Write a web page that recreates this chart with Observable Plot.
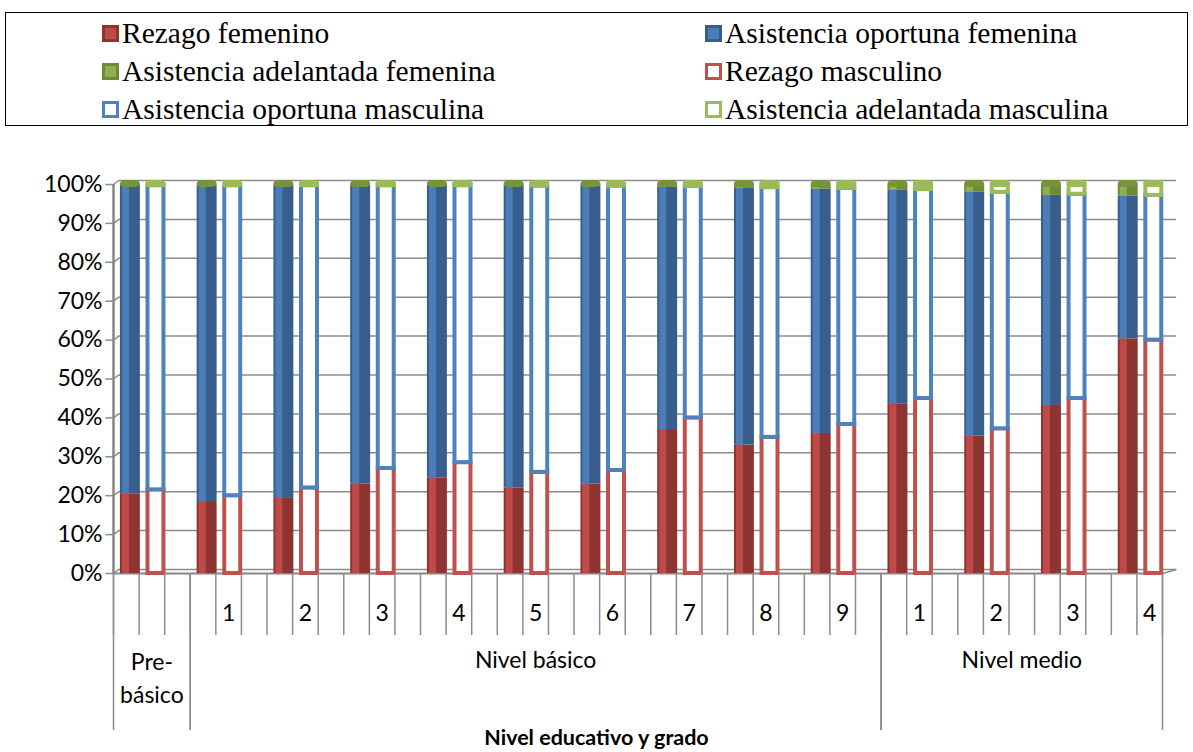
<!DOCTYPE html>
<html><head><meta charset="utf-8">
<script src="https://cdn.jsdelivr.net/npm/d3@7"></script>
<script src="https://cdn.jsdelivr.net/npm/@observablehq/plot@0.6"></script>
<style>
body{margin:0;background:#fff;}
#wrap{position:relative;width:1193px;height:752px;overflow:hidden;font-family:Lato, sans-serif;}
#legend{position:absolute;left:5px;top:12px;width:1183px;height:114px;border:1.5px solid #000;box-sizing:border-box;font-family:"Liberation Serif", serif;font-size:29.5px;color:#000;}
.item{position:absolute;display:flex;align-items:center;height:38px;white-space:nowrap;}
.sw{width:17px;height:17px;box-sizing:border-box;margin-right:3px;flex:none;}
#chart{position:absolute;left:0;top:130px;}
#xtitle{position:absolute;left:0;width:1193px;top:724px;text-align:center;font-weight:bold;font-size:21.5px;color:#000;}
</style></head><body>
<div id="wrap"><div id="legend"></div><div id="chart"></div><div id="xtitle">Nivel educativo y grado</div></div>
<script>
// ---- data ----
const grados = ["", "1", "2", "3", "4", "5", "6", "7", "8", "9", "1", "2", "3", "4"];
const nivelDeGrupo = [0, 1, 1, 1, 1, 1, 1, 1, 1, 1, 2, 2, 2, 2];
const niveles = ["Pre-\nbásico", "Nivel básico", "Nivel medio"];

const rezagoFem      = [20.5, 18.5, 19.3, 23.0, 24.5, 22.0, 23.0, 37.0, 33.0, 36.0, 43.5, 35.3, 43.2, 60.3];
const oportunaFem    = [79.2, 81.2, 80.4, 76.7, 75.2, 77.6, 76.6, 62.4, 66.0, 62.8, 55.0, 62.7, 54.0, 36.7];
const adelantadaFem  = [0.3, 0.3, 0.3, 0.3, 0.3, 0.4, 0.4, 0.6, 1.0, 1.2, 1.5, 2.0, 2.8, 3.0];
const rezagoMasc     = [21.5, 20.0, 22.0, 27.0, 28.5, 26.0, 26.5, 40.0, 35.0, 38.3, 45.0, 37.2, 45.0, 60.0];
const oportunaMasc   = [78.2, 79.7, 77.7, 72.7, 71.2, 73.6, 73.1, 59.5, 64.2, 60.7, 53.7, 60.8, 52.5, 37.2];
const adelantadaMasc = [0.3, 0.3, 0.3, 0.3, 0.3, 0.4, 0.4, 0.5, 0.8, 1.0, 1.3, 2.0, 2.5, 2.8];

const serieNombres = ["Rezago femenino", "Asistencia oportuna femenina", "Asistencia adelantada femenina",
                      "Rezago masculino", "Asistencia oportuna masculina", "Asistencia adelantada masculina"];
const yTicks = [0, 10, 20, 30, 40, 50, 60, 70, 80, 90, 100];

// ---- styles ----
const femDark  = {rezago: "#8E3431", oportuna: "#385E8D", adelantada: "#6F8A37"};
const femLight = {rezago: "#BE4B48", oportuna: "#4C7DB9", adelantada: "#8FB050"};
const mascCol  = {rezago: "#C0504D", oportuna: "#4F81BD", adelantada: "#9BBB59"};
const grid = "#8c8c8c";

// ---- legend ----
const legend = document.getElementById("legend");
const tipos = ["rezago", "oportuna", "adelantada"];
serieNombres.forEach((name, i) => {
  const col = i % 2, row = Math.floor(i / 2);
  const fem = i < 3;
  const tipo = tipos[i % 3];
  const it = document.createElement("div");
  it.className = "item";
  it.style.left = (col ? 699 : 96) + "px";
  it.style.top = (1 + row * 38) + "px";
  const sw = document.createElement("div");
  sw.className = "sw";
  if (fem) { sw.style.background = femLight[tipo]; sw.style.border = "3px solid " + femDark[tipo]; }
  else { sw.style.background = "#fff"; sw.style.border = "3.5px solid " + mascCol[tipo]; }
  it.appendChild(sw);
  const t = document.createElement("span");
  t.textContent = name;
  it.appendChild(t);
  legend.appendChild(it);
});

// ---- geometry from categories ----
const porGrupo = 3;
const nSlots = grados.length * porGrupo - 1;
const segs = [];
grados.forEach((g, i) => {
  const base = i * porGrupo;
  [["f", 0, rezagoFem[i], oportunaFem[i], adelantadaFem[i]],
   ["m", 1, rezagoMasc[i], oportunaMasc[i], adelantadaMasc[i]]].forEach(([sexo, off, r, o, a]) => {
    let acc = 0;
    [["rezago", r], ["oportuna", o], ["adelantada", a]].forEach(([tipo, v]) => {
      segs.push({slot: base + off, sexo, tipo, y1: acc, y2: acc + v});
      acc += v;
    });
  });
});
const femSegs = segs.filter(d => d.sexo === "f");
const mascSegs = segs.filter(d => d.sexo === "m");
const tops = segs.filter(d => d.tipo === "adelantada");

const barL = 0.27, barW = 0.78;
const slotBounds = d3.range(0, nSlots + 1);
const nivelBounds = [];
const nivelSpans = niveles.map((n, k) => {
  const gs = nivelDeGrupo.map((v, i) => v === k ? i : -1).filter(i => i >= 0);
  const s = gs[0] * porGrupo, e = Math.min((gs[gs.length - 1] + 1) * porGrupo, nSlots);
  return {label: n, s, e, multi: n.includes("\n")};
});
nivelSpans.forEach(d => { nivelBounds.push(d.s); nivelBounds.push(d.e); });
const gradoLabels = grados.map((g, i) => ({g, x: i * porGrupo + 1.5})).filter(d => d.g !== "");

const pxPerUnit = (443 - 54) / 100;
const depth = 4 / pxPerUnit;
const backX = 0.2, backRight = 41.55;

const plot = Plot.plot({
  width: 1193, height: 622,
  marginLeft: 113, marginRight: 31, marginTop: 54, marginBottom: 179,
  x: {domain: [0, nSlots], axis: null},
  y: {domain: [0, 100], axis: null},
  style: {fontFamily: "Lato, sans-serif", fontSize: "23px", color: "#000", background: "transparent", overflow: "visible"},
  marks: [
    Plot.ruleY(yTicks, {y: d => d, x1: backX, x2: backRight, stroke: grid, strokeWidth: 1.5, dy: -4}),
    Plot.link(yTicks, {x1: 0, y1: d => d, x2: backX, y2: d => d + depth, stroke: grid, strokeWidth: 1.5}),
    Plot.ruleY(yTicks, {y: d => d, x1: -0.3, x2: 0, stroke: grid, strokeWidth: 1.5}),
    Plot.ruleX([0], {x: d => d, y1: 0, y2: 100, stroke: "#868686", strokeWidth: 2.5}),
    Plot.ruleY([0], {y: d => d, x1: 0, x2: nSlots, stroke: "#868686", strokeWidth: 2}),
    Plot.link([0], {x1: nSlots, y1: 0, x2: backRight, y2: d => d + depth, stroke: grid, strokeWidth: 1.5}),
    Plot.text(yTicks, {x: 0, y: d => d, text: d => d + "%", textAnchor: "end", dx: -11, fontSize: 23, fill: "#000"}),
    // female bars (solid, shaded)
    Plot.rect(femSegs, {x1: d => d.slot + barL, x2: d => d.slot + barL + barW, y1: "y1", y2: "y2", fill: d => femDark[d.tipo]}),
    Plot.rect(femSegs, {x1: d => d.slot + barL + barW * 0.1, x2: d => d.slot + barL + barW * 0.45, y1: "y1", y2: "y2", fill: d => femLight[d.tipo]}),
    // male bars (outlined)
    Plot.rect(mascSegs, {x1: d => d.slot + barL, x2: d => d.slot + barL + barW, y1: "y1", y2: "y2", fill: "#fff", stroke: d => mascCol[d.tipo], strokeWidth: 4, insetLeft: 2, insetRight: 2}),
    // top caps
    Plot.rect(tops, {x1: d => d.slot + barL, x2: d => d.slot + barL + barW, y1: "y2", y2: "y2", insetTop: -4, insetBottom: -3, rx: 5,
      fill: d => d.sexo === "f" ? "#77933C" : "#9BBB59"}),
    // category axis below floor
    Plot.ruleX(slotBounds, {x: d => d, y1: 0, y2: 0, insetBottom: -62, stroke: grid, strokeWidth: 1.5}),
    Plot.ruleX(nivelBounds, {x: d => d, y1: 0, y2: 0, insetBottom: -157, stroke: grid, strokeWidth: 1.5}),
    Plot.text(gradoLabels, {x: "x", y: 0, dy: 40, text: "g", fontSize: 23, fill: "#000"}),
    Plot.text(nivelSpans.filter(d => d.multi), {x: d => (d.s + d.e) / 2, y: 0, dy: 102, text: "label", lineHeight: 1.45, fontSize: 23, fill: "#000"}),
    Plot.text(nivelSpans.filter(d => !d.multi), {x: d => (d.s + d.e) / 2, y: 0, dy: 87, text: "label", fontSize: 23, fill: "#000"})
  ]
});
document.getElementById("chart").appendChild(plot);
</script>
</body></html>
